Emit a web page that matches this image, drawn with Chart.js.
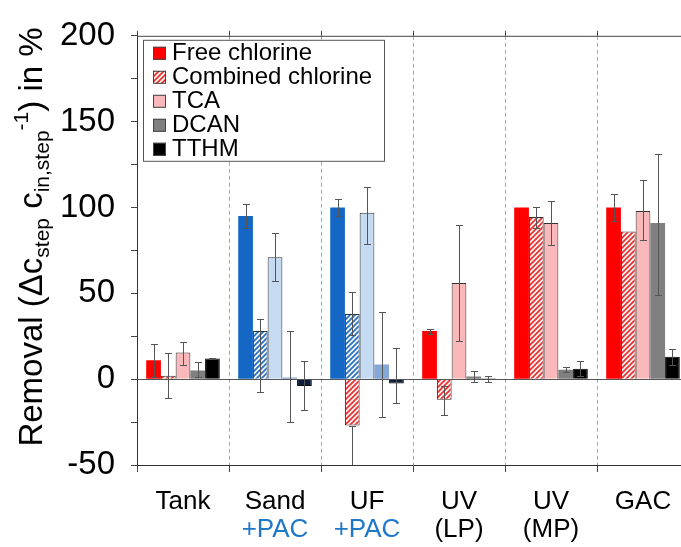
<!DOCTYPE html>
<html>
<head>
<meta charset="utf-8">
<script src="https://cdn.jsdelivr.net/npm/chart.js@4.4.1/dist/chart.umd.min.js"></script>
<style>
    html, body { margin: 0; padding: 0; background: #fff; overflow: hidden; }
    #wrap { position: relative; width: 700px; height: 547px; }
</style>
</head>
<body>
<div id="wrap"><canvas id="removalChart"></canvas></div>
<script>
const categories = ['Tank', 'Sand', 'UF', 'UV', 'UV', 'GAC'];
const subLabels = ['', '+PAC', '+PAC', '(LP)', '(MP)', ''];
const yTickLabels = [-50, 0, 50, 100, 150, 200];
const seriesNames = ['Free chlorine', 'Combined chlorine', 'TCA', 'DCAN', 'TTHM'];

// mean removal per treatment step (%)
const freeChlorine = [11, 95, 100, 28, 100, 100];
const combinedChlorine = [2, 28, 38, -12, 94.5, 86];
const tca = [15.5, 71, 97, 56, 91, 98];
const dcan = [5, 1, 8.5, 1.5, 5.5, 91];
const tthm = [12, -4, -2.5, 0.5, 6, 13];
// UF without PAC, combined chlorine
const combinedChlorineUF = [null, null, -27, null, null, null];

// error bar ends (low / high)
const freeChlorineLo = [1, 88, 95, 26.5, null, 92];
const freeChlorineHi = [20.5, 102, 105, 29.5, null, 108];
const combinedChlorineLo = [-11, -7.5, 26, -21, 88, null];
const combinedChlorineHi = [15, 35, 50.5, -4, 100, null];
const tcaLo = [8.5, 57, 79, 22, 78, 81];
const tcaHi = [21.5, 85, 112, 90, 103.5, 116];
const dcanLo = [1, -25, -22, -1.5, 4, 49];
const dcanHi = [10, 28, 39, 4.5, 7, 131];
const tthmLo = [11.5, -18, -14, -1.5, 2, 8.5];
const tthmHi = [12.5, 10.5, 18, 2, 10.5, 17.5];
const combinedChlorineUFLo = [null, null, -62, null, null, null];
const combinedChlorineUFHi = [null, null, -27, null, null, null];

const FONT = '"Liberation Sans", Arial, sans-serif';

function hatch(bg, fg) {
    const c = document.createElement('canvas');
    c.width = c.height = 5;
    const g = c.getContext('2d');
    g.fillStyle = bg;
    g.fillRect(0, 0, 5, 5);
    g.strokeStyle = fg;
    g.lineWidth = 1.7;
    g.beginPath();
    g.moveTo(0, 5); g.lineTo(5, 0);
    g.moveTo(-1, 1); g.lineTo(1, -1);
    g.moveTo(4, 6); g.lineTo(6, 4);
    g.stroke();
    return g.createPattern(c, 'repeat');
}

const hatchRed = hatch('#fff2f2', '#e8302f');
const hatchBlue = hatch('#eef5fc', '#2a6fc0');

const isPac = i => subLabels[i] === '+PAC';
const pick = (red, blue) => ctx => isPac(ctx.dataIndex) ? blue : red;

const legendFills = ['#ff0000', hatchRed, '#f9b9bb', '#808080', '#000000'];

const errorBars = {
    id: 'errorBars',
    afterDatasetsDraw(chart) {
        const {ctx, chartArea, scales: {y}} = chart;
        ctx.save();
        ctx.beginPath();
        ctx.rect(chartArea.left, chartArea.top, chartArea.width, chartArea.height);
        ctx.clip();
        ctx.strokeStyle = '#555';
        ctx.lineWidth = 1;
        chart.data.datasets.forEach((ds, i) => {
            const meta = chart.getDatasetMeta(i);
            meta.data.forEach((bar, j) => {
                const lo = ds.errLow[j], hi = ds.errHigh[j];
                if (lo == null || hi == null) return;
                const x = Math.round(bar.x) + 0.5;
                const y1 = Math.round(y.getPixelForValue(lo)) + 0.5;
                const y2 = Math.round(y.getPixelForValue(hi)) + 0.5;
                ctx.beginPath();
                ctx.moveTo(x, y1);
                ctx.lineTo(x, y2);
                ctx.moveTo(x - 3.5, y1); ctx.lineTo(x + 3.5, y1);
                ctx.moveTo(x - 3.5, y2); ctx.lineTo(x + 3.5, y2);
                ctx.stroke();
            });
        });
        ctx.restore();
    }
};

// top frame line, the blue "+PAC" second lines, legend box and the y title
const decorations = {
    id: 'decorations',
    afterDraw(chart) {
        const {ctx, chartArea, scales: {x}} = chart;
        ctx.save();
        ctx.strokeStyle = '#444';
        ctx.lineWidth = 1;
        ctx.beginPath();
        ctx.moveTo(chartArea.left, chartArea.top + 0.5);
        ctx.lineTo(chartArea.right, chartArea.top + 0.5);
        for (let i = 0; i <= categories.length; i++) {
            const px = Math.round(x.getPixelForValue(i - 0.5)) + 0.5;
            ctx.moveTo(px, chartArea.top - 5);
            ctx.lineTo(px, chartArea.top);
        }
        ctx.stroke();

        // second label line in blue for the PAC steps
        const items = x.getLabelItems();
        ctx.fillStyle = '#1f77c8';
        items.forEach((item, i) => {
            if (!isPac(i)) return;
            const o = item.options;
            ctx.font = item.font.string;
            ctx.textAlign = o.textAlign;
            ctx.textBaseline = o.textBaseline;
            ctx.fillText(subLabels[i], o.translation[0], o.translation[1] + item.textOffset + item.font.lineHeight);
        });

        // legend
        const left = chartArea.left + 6, top = chartArea.top + 4;
        ctx.fillStyle = '#fff';
        ctx.fillRect(left, top, 241, 121);
        ctx.strokeStyle = '#555';
        ctx.strokeRect(left + 0.5, top + 0.5, 241, 121);
        ctx.font = '24px ' + FONT;
        ctx.textAlign = 'left';
        ctx.textBaseline = 'middle';
        seriesNames.forEach((name, i) => {
            const cy = top + 13 + i * 24;
            ctx.fillStyle = legendFills[i];
            ctx.fillRect(left + 10, cy - 6, 13, 13);
            ctx.strokeStyle = '#444';
            ctx.strokeRect(left + 10.5, cy - 5.5, 12, 12);
            ctx.fillStyle = '#000';
            ctx.fillText(name, left + 29, cy + 1);
        });

        // rotated y title with sub- and superscripts
        const big = '33px ' + FONT, small = '21px ' + FONT;
        const runs = [
            ['Removal (\u0394c', big, 0],
            ['step', small, 7],
            [' c', big, 0],
            ['in,step', small, 7],
            ['-1', small, -14],
            [') in %', big, 0]
        ];
        let total = 0;
        runs.forEach(r => { ctx.font = r[1]; r.push(ctx.measureText(r[0]).width); total += r[3]; });
        ctx.translate(42, 237 + total / 2);
        ctx.rotate(-Math.PI / 2);
        ctx.fillStyle = '#000';
        ctx.textBaseline = 'alphabetic';
        let pos = 0;
        runs.forEach(([t, f, dy, w]) => { ctx.font = f; ctx.fillText(t, pos, dy); pos += w; });
        ctx.restore();
    }
};

const chartCtx = document.getElementById('removalChart').getContext('2d');
const removalChart = new Chart(chartCtx, {
    type: 'bar',
    data: {
        labels: categories,
        datasets: [{
            label: seriesNames[0],
            data: freeChlorine,
            errLow: freeChlorineLo,
            errHigh: freeChlorineHi,
            stack: 'fc',
            backgroundColor: pick('#ff0000', '#1467c4'),
            borderWidth: 0
        }, {
            label: seriesNames[1],
            data: combinedChlorine,
            errLow: combinedChlorineLo,
            errHigh: combinedChlorineHi,
            stack: 'cc',
            backgroundColor: pick(hatchRed, hatchBlue),
            borderColor: '#333',
            borderWidth: 1
        }, {
            label: seriesNames[2],
            data: tca,
            errLow: tcaLo,
            errHigh: tcaHi,
            stack: 'tca',
            backgroundColor: pick('#f9b9bb', '#c4dbf2'),
            borderColor: '#333',
            borderWidth: 1
        }, {
            label: seriesNames[3],
            data: dcan,
            errLow: dcanLo,
            errHigh: dcanHi,
            stack: 'dcan',
            backgroundColor: pick('#808080', '#86a6d6'),
            borderWidth: 0
        }, {
            label: seriesNames[4],
            data: tthm,
            errLow: tthmLo,
            errHigh: tthmHi,
            stack: 'tthm',
            backgroundColor: pick('#000000', '#0b1d3a'),
            borderColor: '#000',
            borderWidth: 1
        }, {
            label: 'Combined chlorine (UF)',
            data: combinedChlorineUF,
            errLow: combinedChlorineUFLo,
            errHigh: combinedChlorineUFHi,
            stack: 'cc',
            backgroundColor: hatchRed,
            borderColor: '#333',
            borderWidth: 1
        }]
    },
    options: {
        responsive: true,
        maintainAspectRatio: false,
        animation: false,
        categoryPercentage: 0.8,
        barPercentage: 1,
        layout: { padding: { left: 37, right: 11, top: 27, bottom: 0 } },
        plugins: {
            legend: { display: false },
            tooltip: { enabled: false }
        },
        scales: {
            x: {
                stacked: true,
                grid: { offset: true, color: '#a8a8a8', lineWidth: 1, tickColor: '#444', tickLength: 7 },
                border: { color: '#333', width: 1, dash: [4, 3] },
                ticks: {
                    color: '#000',
                    padding: 16,
                    maxRotation: 0,
                    autoSkip: false,
                    font: { family: FONT, size: 26, lineHeight: 1.06 },
                    callback: function(value, index) {
                        const sub = subLabels[index];
                        if (!sub) return categories[index];
                        return [categories[index], isPac(index) ? '' : sub];
                    }
                },
                afterFit: function(scale) { scale.height = 82; }
            },
            y: {
                stacked: true,
                min: -50,
                max: 200,
                grid: {
                    color: ctx => ctx.tick && ctx.tick.value === 0 ? '#555' : 'rgba(0,0,0,0)',
                    tickColor: '#444',
                    tickLength: 6
                },
                border: { color: '#333', width: 1 },
                ticks: {
                    stepSize: 25,
                    color: '#000',
                    padding: 16,
                    font: { family: FONT, size: 33 },
                    callback: function(value) {
                        return yTickLabels.includes(value) ? String(value) : '';
                    }
                },
                afterFit: function(scale) { scale.width = 100; }
            }
        }
    },
    plugins: [errorBars, decorations]
});
</script>
</body>
</html>
